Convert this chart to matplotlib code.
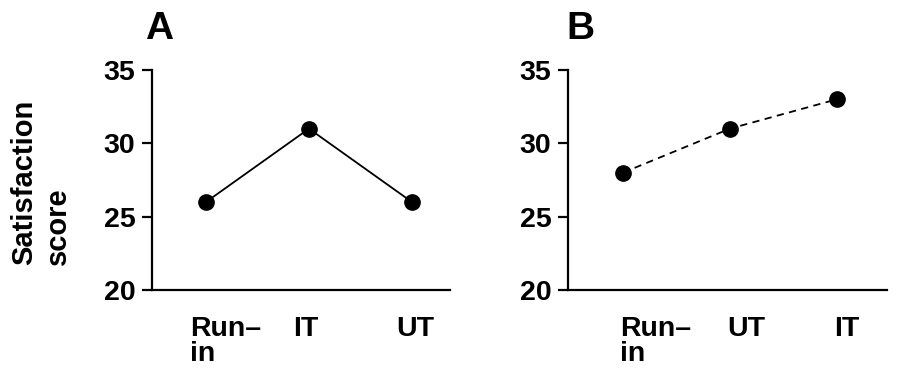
import matplotlib
matplotlib.use("Agg")
import matplotlib.pyplot as plt
import matplotlib.transforms as mtransforms

plt.rcParams['font.family'] = ['Liberation Sans', 'DejaVu Sans']
plt.rcParams['font.weight'] = 'bold'

cats_a = ["Run–\nin", "IT", "UT"]
vals_a = [26, 31, 26]
cats_b = ["Run–\nin", "UT", "IT"]
vals_b = [28, 31, 33]
yticks = [20, 25, 30, 35]

fig = plt.figure(figsize=(8.97, 3.70), dpi=100)
axA = fig.add_axes([0.1695, 0.2162, 0.3322, 0.5946])
axB = fig.add_axes([0.6332, 0.2162, 0.3557, 0.5946])

def style(ax, cats, vals, ls, xlim, xoff):
    x = list(range(1, len(cats) + 1))
    ax.plot(x, vals, color='black', lw=1.3, linestyle=ls, marker='o',
            markersize=11, markerfacecolor='black', markeredgecolor='black',
            zorder=3)
    ax.set_ylim(20, 35)
    ax.set_xlim(*xlim)
    ax.set_yticks(yticks)
    ax.set_yticklabels([str(t) for t in yticks])
    ax.set_xticks(x)
    ax.set_xticklabels(cats, ha='left', multialignment='left', va='top',
                       linespacing=0.95)
    for s in ['top', 'right']:
        ax.spines[s].set_visible(False)
    for s in ['left', 'bottom']:
        ax.spines[s].set_linewidth(1.6)
    ax.tick_params(axis='y', direction='out', length=7, width=1.6, pad=5,
                   labelsize=20.5)
    ax.tick_params(axis='x', length=0, pad=19, labelsize=20.5)
    off = mtransforms.ScaledTranslation(xoff / 100.0, 0, fig.dpi_scale_trans)
    for lab in ax.get_xticklabels():
        lab.set_transform(lab.get_transform() + off)
        lab.set_fontweight('bold')
    for lab in ax.get_yticklabels():
        lab.set_fontweight('bold')
    ax.set_facecolor('none')

style(axA, cats_a, vals_a, '-', (0.476, 3.37), -16)
style(axB, cats_b, vals_b, (0, (4, 3)), (0.486, 3.47), -3)

fig.text(145 / 897, 1 - 29 / 370, "A", fontsize=28, fontweight='bold',
         ha='left', va='center')
fig.text(566 / 897, 1 - 29 / 370, "B", fontsize=28, fontweight='bold',
         ha='left', va='center')
fig.text(41 / 897, 1 - 182 / 370, "Satisfaction\nscore", rotation=90,
         fontsize=21, fontweight='bold', ha='center', va='center',
         multialignment='left', linespacing=1.25)

fig.savefig("out.png", dpi=100)
